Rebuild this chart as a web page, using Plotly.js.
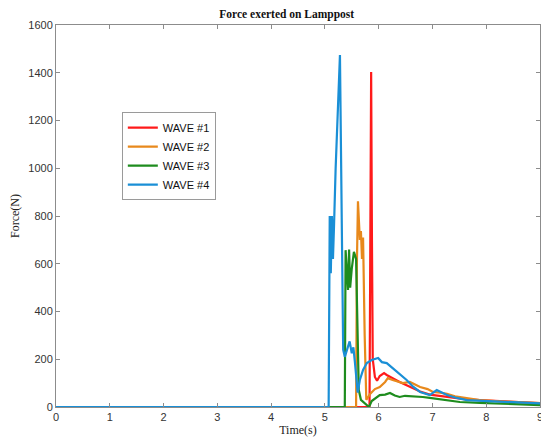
<!DOCTYPE html>
<html>
<head>
<meta charset="utf-8">
<script src="https://cdn.plot.ly/plotly-3.0.1.min.js"></script>
<style>html,body{margin:0;padding:0;background:#fff;}#chart{width:541px;height:437px;}</style>
</head>
<body>
<div id="chart"></div>
<script>
// Wave #1 (red)
var t1 = [0, 5.83, 5.845, 5.86, 5.875, 5.89, 5.93, 5.97, 6.02, 6.10, 6.15, 6.21, 6.30, 6.39, 6.58, 6.77, 6.95, 7.14, 7.32, 7.60, 7.88, 8.25, 8.62, 9.0];
var f1 = [0, 0, 700, 1403, 700, 200, 126, 110, 130, 142, 134, 126, 115, 105, 85, 65, 52, 46, 40, 33, 29, 24, 19, 16];
// Wave #2 (orange)
var t2 = [0, 5.58, 5.595, 5.615, 5.65, 5.67, 5.69, 5.71, 5.74, 5.77, 5.80, 5.84, 5.93, 6.02, 6.12, 6.17, 6.26, 6.36, 6.45, 6.58, 6.67, 6.77, 6.91, 7.01, 7.14, 7.27, 7.42, 7.51, 7.70, 7.88, 8.25, 8.5, 9.0];
var f2 = [0, 0, 600, 862, 700, 737, 620, 710, 300, 30, 40, 55, 75, 84, 105, 121, 113, 105, 100, 105, 95, 84, 75, 63, 60, 55, 45, 42, 35, 29, 24, 21, 16];
// Wave #3 (green)
var t3 = [0, 5.37, 5.385, 5.41, 5.43, 5.45, 5.47, 5.50, 5.54, 5.58, 5.61, 5.63, 5.67, 5.72, 5.78, 5.82, 5.87, 5.95, 6.02, 6.12, 6.21, 6.30, 6.39, 6.49, 6.58, 6.67, 6.82, 6.95, 7.14, 7.32, 7.51, 7.88, 8.5, 9.0];
var f3 = [0, 0, 657, 560, 490, 660, 500, 580, 650, 620, 300, 71, 30, 20, 5, 0, 25, 38, 50, 52, 59, 48, 42, 47, 46, 42, 42, 38, 33, 28, 21, 17, 13, 8];
// Wave #4 (blue)
var t4 = [0, 5.07, 5.09, 5.11, 5.13, 5.15, 5.17, 5.20, 5.28, 5.31, 5.34, 5.37, 5.43, 5.46, 5.50, 5.53, 5.56, 5.61, 5.65, 5.71, 5.78, 5.87, 5.99, 6.06, 6.15, 6.26, 6.39, 6.52, 6.64, 6.77, 6.95, 7.08, 7.27, 7.45, 7.64, 8.0, 8.5, 9.0];
var f4 = [0, 0, 800, 560, 800, 620, 760, 1000, 1474, 900, 240, 210, 260, 275, 225, 250, 184, 60, 113, 155, 184, 197, 205, 188, 184, 163, 135, 113, 85, 63, 50, 71, 50, 38, 29, 25, 18, 15];

var names = ['WAVE #1', 'WAVE #2', 'WAVE #3', 'WAVE #4'];
var colors = ['#ff1a1a', '#e8891c', '#1e8c1e', '#1a8fd6'];
var xTicks = [0, 1, 2, 3, 4, 5, 6, 7, 8, 9];
var yTicks = [0, 200, 400, 600, 800, 1000, 1200, 1400, 1600];

var T = [t1, t2, t3, t4], F = [f1, f2, f3, f4];
var data = [];
for (var i = 0; i < 4; i++) {
  data.push({x: T[i], y: F[i], name: names[i], type: 'scatter', mode: 'lines',
    line: {color: colors[i], width: 2.2}});
}

var axisCommon = {
  showgrid: false, zeroline: false, showline: true, linecolor: '#8c8c8c', linewidth: 1,
  mirror: 'ticks', ticks: 'inside', ticklen: 4, tickcolor: '#8c8c8c', ticklabeloverflow: 'allow',
  tickfont: {family: 'Liberation Sans, Arial, sans-serif', size: 11, color: '#333'}
};

var layout = {
  width: 541, height: 437,
  margin: {l: 56, r: 1, t: 25, b: 30},
  paper_bgcolor: '#fff', plot_bgcolor: '#fff',
  title: {text: '<b>Force exerted on Lamppost</b>', x: 0.53, xanchor: 'center', y: 0.968, yanchor: 'middle',
    font: {family: 'Liberation Serif, Times New Roman, serif', size: 11.5, color: '#111'}},
  xaxis: Object.assign({}, axisCommon, {range: [0, 9], tickvals: xTicks, ticktext: xTicks.map(String),
    title: {text: 'Time(s)', standoff: 3, font: {family: 'Liberation Serif, Times New Roman, serif', size: 12, color: '#222'}}}),
  yaxis: Object.assign({}, axisCommon, {range: [0, 1600], tickvals: yTicks, ticktext: yTicks.map(String),
    title: {text: 'Force(N)', standoff: 6, font: {family: 'Liberation Serif, Times New Roman, serif', size: 12, color: '#222'}}}),
  showlegend: true,
  legend: {x: 0.136, y: 0.657, xanchor: 'left', yanchor: 'middle', bgcolor: '#fff', bordercolor: '#9a9a9a', borderwidth: 1,
    font: {family: 'Liberation Sans, Arial, sans-serif', size: 11, color: '#111'}, tracegroupgap: 0, itemwidth: 30}
};

Plotly.newPlot('chart', data, layout, {staticPlot: true, displayModeBar: false});
</script>
</body>
</html>
